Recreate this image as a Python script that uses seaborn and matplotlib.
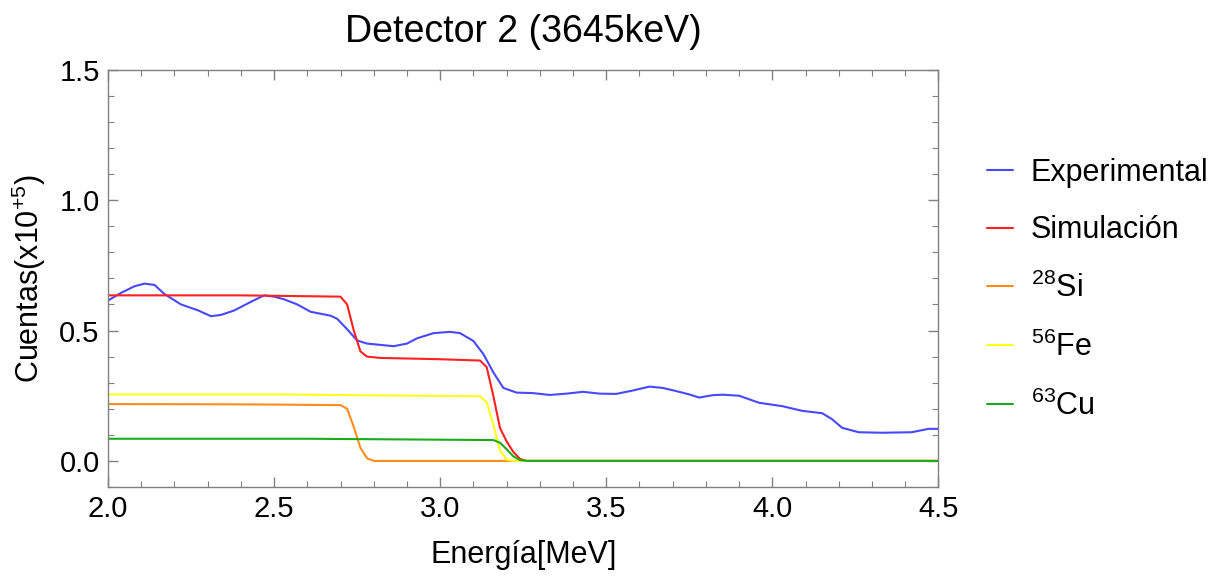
import numpy as np
import pandas as pd
import matplotlib
matplotlib.use("Agg")
import matplotlib.pyplot as plt
import seaborn as sns
from matplotlib.ticker import MultipleLocator

# Experimental spectrum (x10^5 counts)
exp_e = [2.00, 2.04, 2.08, 2.11, 2.14, 2.17, 2.22, 2.27, 2.31, 2.34, 2.38, 2.43,
         2.47, 2.50, 2.53, 2.57, 2.61, 2.65, 2.67, 2.69, 2.72, 2.75, 2.78, 2.82,
         2.86, 2.90, 2.93, 2.98, 3.03, 3.06, 3.10, 3.13, 3.16, 3.19, 3.23, 3.28,
         3.33, 3.38, 3.43, 3.48, 3.53, 3.58, 3.63, 3.67, 3.71, 3.75, 3.78, 3.82,
         3.85, 3.90, 3.96, 4.03, 4.09, 4.15, 4.18, 4.21, 4.26, 4.33, 4.42, 4.47, 4.50]
exp_c = [0.615, 0.645, 0.670, 0.680, 0.675, 0.640, 0.600, 0.578, 0.555, 0.560, 0.577, 0.610,
         0.635, 0.630, 0.620, 0.600, 0.572, 0.562, 0.557, 0.545, 0.505, 0.462, 0.450, 0.445,
         0.440, 0.450, 0.470, 0.490, 0.495, 0.490, 0.460, 0.410, 0.340, 0.280, 0.262, 0.260,
         0.253, 0.258, 0.265, 0.258, 0.257, 0.270, 0.285, 0.280, 0.268, 0.255, 0.243, 0.252,
         0.254, 0.250, 0.223, 0.210, 0.192, 0.183, 0.160, 0.127, 0.110, 0.108, 0.110, 0.123, 0.123]

# Simulated total
sim_e = [2.00, 2.40, 2.70, 2.72, 2.74, 2.76, 2.78, 2.82, 3.00, 3.12, 3.14, 3.16,
         3.18, 3.20, 3.22, 3.24, 3.26, 3.50, 4.50]
sim_c = [0.635, 0.635, 0.630, 0.600, 0.500, 0.420, 0.400, 0.395, 0.390, 0.385, 0.360, 0.250,
         0.127, 0.075, 0.035, 0.008, 0.000, 0.000, 0.000]

# 28Si
si_e = [2.00, 2.40, 2.70, 2.72, 2.74, 2.76, 2.78, 2.80, 4.50]
si_c = [0.218, 0.217, 0.214, 0.200, 0.130, 0.050, 0.010, 0.000, 0.000]

# 56Fe
fe_e = [2.00, 2.50, 3.12, 3.14, 3.16, 3.18, 3.20, 3.22, 4.50]
fe_c = [0.255, 0.255, 0.248, 0.225, 0.140, 0.040, 0.005, 0.000, 0.000]

# 63Cu
cu_e = [2.00, 2.60, 3.16, 3.18, 3.20, 3.22, 3.24, 3.26, 4.50]
cu_c = [0.085, 0.085, 0.080, 0.070, 0.045, 0.018, 0.003, 0.000, 0.000]

series = [
    ("Experimental", exp_e, exp_c, "#4848ff"),
    ("Simulación", sim_e, sim_c, "#ff2020"),
    ("$^{28}$Si", si_e, si_c, "#ff8c1a"),
    ("$^{56}$Fe", fe_e, fe_c, "#ffff1a"),
    ("$^{63}$Cu", cu_e, cu_c, "#1aaa1a"),
]

sns.set_style("white", {"xtick.bottom": True, "ytick.left": True,
                        "text.color": "black", "axes.labelcolor": "black",
                        "xtick.color": "black", "ytick.color": "black"})
plt.rcParams["font.family"] = ["Liberation Sans", "DejaVu Sans"]
plt.rcParams["mathtext.fontset"] = "custom"
plt.rcParams["mathtext.rm"] = "Liberation Sans"
plt.rcParams["mathtext.it"] = "Liberation Sans:italic"

fig = plt.figure(figsize=(12.23, 5.77), dpi=100)
ax = fig.add_axes([0.0883, 0.156, 0.679, 0.723])

for name, e, c, col in series:
    df = pd.DataFrame({"e": e, "c": c})
    sns.lineplot(data=df, x="e", y="c", ax=ax, color=col, lw=1.5, label=name)

ax.set_xlim(2.0, 4.5)
ax.set_ylim(-0.1, 1.5)
ax.xaxis.set_major_locator(MultipleLocator(0.5))
ax.xaxis.set_minor_locator(MultipleLocator(0.1))
ax.yaxis.set_major_locator(MultipleLocator(0.5))
ax.yaxis.set_minor_locator(MultipleLocator(0.1))
ax.xaxis.set_major_formatter(matplotlib.ticker.FormatStrFormatter("%.1f"))
ax.yaxis.set_major_formatter(matplotlib.ticker.FormatStrFormatter("%.1f"))
ax.tick_params(which="both", direction="in", top=True, right=True,
               bottom=True, left=True, color="#808080", labelsize=21,
               labelcolor="black")
ax.tick_params(which="major", length=7, width=1, pad=6)
ax.tick_params(which="minor", length=4, width=0.8)
for s in ax.spines.values():
    s.set_color("#808080")
    s.set_linewidth(1)

ax.set_xlabel("Energía[MeV]", fontsize=22, labelpad=12, color="black")
ax.set_ylabel("Cuentas(x10$^{+5}$)", fontsize=22, labelpad=8, color="black")
ax.set_title("Detector 2 (3645keV)", fontsize=27, pad=20, color="black")

ax.legend(loc="upper left", bbox_to_anchor=(1.025, 0.855), frameon=False,
          fontsize=22, handlelength=0.85, handletextpad=0.6, labelspacing=0.9)

fig.savefig("out.png", dpi=100)
